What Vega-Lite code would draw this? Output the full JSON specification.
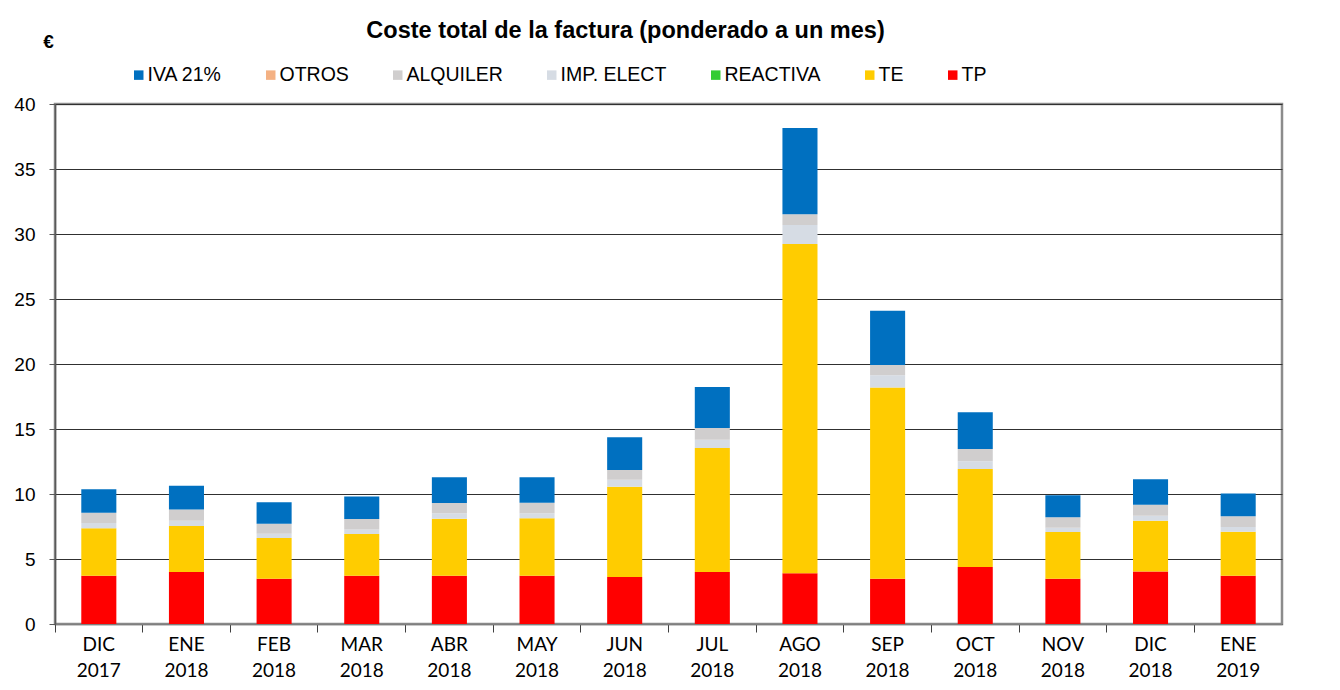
{
  "$schema": "https://vega.github.io/schema/vega-lite/v6.json",
  "autosize": "none",
  "width": 1227,
  "height": 520,
  "padding": {"left": 55, "top": 104, "right": 58, "bottom": 66},
  "background": "white",
  "title": {
    "text": "Coste total de la factura (ponderado a un mes)",
    "font": "Liberation Sans",
    "fontSize": 23.5,
    "fontWeight": "bold",
    "color": "black",
    "anchor": "middle",
    "frame": "group",
    "dx": -43,
    "dy": 30,
    "offset": 20
  },
  "data": {
    "values": [
      {"mes": "DIC 2017", "serie": "TP", "orden": 1, "valor": 3.72},
      {"mes": "DIC 2017", "serie": "TE", "orden": 2, "valor": 3.64},
      {"mes": "DIC 2017", "serie": "IMP. ELECT", "orden": 4, "valor": 0.41},
      {"mes": "DIC 2017", "serie": "ALQUILER", "orden": 5, "valor": 0.79},
      {"mes": "DIC 2017", "serie": "IVA 21%", "orden": 7, "valor": 1.80},
      {"mes": "ENE 2018", "serie": "TP", "orden": 1, "valor": 4.0},
      {"mes": "ENE 2018", "serie": "TE", "orden": 2, "valor": 3.54},
      {"mes": "ENE 2018", "serie": "IMP. ELECT", "orden": 4, "valor": 0.41},
      {"mes": "ENE 2018", "serie": "ALQUILER", "orden": 5, "valor": 0.85},
      {"mes": "ENE 2018", "serie": "IVA 21%", "orden": 7, "valor": 1.84},
      {"mes": "FEB 2018", "serie": "TP", "orden": 1, "valor": 3.49},
      {"mes": "FEB 2018", "serie": "TE", "orden": 2, "valor": 3.13},
      {"mes": "FEB 2018", "serie": "IMP. ELECT", "orden": 4, "valor": 0.33},
      {"mes": "FEB 2018", "serie": "ALQUILER", "orden": 5, "valor": 0.77},
      {"mes": "FEB 2018", "serie": "IVA 21%", "orden": 7, "valor": 1.64},
      {"mes": "MAR 2018", "serie": "TP", "orden": 1, "valor": 3.72},
      {"mes": "MAR 2018", "serie": "TE", "orden": 2, "valor": 3.20},
      {"mes": "MAR 2018", "serie": "IMP. ELECT", "orden": 4, "valor": 0.34},
      {"mes": "MAR 2018", "serie": "ALQUILER", "orden": 5, "valor": 0.82},
      {"mes": "MAR 2018", "serie": "IVA 21%", "orden": 7, "valor": 1.72},
      {"mes": "ABR 2018", "serie": "TP", "orden": 1, "valor": 3.72},
      {"mes": "ABR 2018", "serie": "TE", "orden": 2, "valor": 4.38},
      {"mes": "ABR 2018", "serie": "IMP. ELECT", "orden": 4, "valor": 0.41},
      {"mes": "ABR 2018", "serie": "ALQUILER", "orden": 5, "valor": 0.80},
      {"mes": "ABR 2018", "serie": "IVA 21%", "orden": 7, "valor": 1.97},
      {"mes": "MAY 2018", "serie": "TP", "orden": 1, "valor": 3.72},
      {"mes": "MAY 2018", "serie": "TE", "orden": 2, "valor": 4.41},
      {"mes": "MAY 2018", "serie": "IMP. ELECT", "orden": 4, "valor": 0.38},
      {"mes": "MAY 2018", "serie": "ALQUILER", "orden": 5, "valor": 0.82},
      {"mes": "MAY 2018", "serie": "IVA 21%", "orden": 7, "valor": 1.95},
      {"mes": "JUN 2018", "serie": "TP", "orden": 1, "valor": 3.62},
      {"mes": "JUN 2018", "serie": "TE", "orden": 2, "valor": 6.94},
      {"mes": "JUN 2018", "serie": "IMP. ELECT", "orden": 4, "valor": 0.54},
      {"mes": "JUN 2018", "serie": "ALQUILER", "orden": 5, "valor": 0.75},
      {"mes": "JUN 2018", "serie": "IVA 21%", "orden": 7, "valor": 2.51},
      {"mes": "JUL 2018", "serie": "TP", "orden": 1, "valor": 4.0},
      {"mes": "JUL 2018", "serie": "TE", "orden": 2, "valor": 9.54},
      {"mes": "JUL 2018", "serie": "IMP. ELECT", "orden": 4, "valor": 0.64},
      {"mes": "JUL 2018", "serie": "ALQUILER", "orden": 5, "valor": 0.90},
      {"mes": "JUL 2018", "serie": "IVA 21%", "orden": 7, "valor": 3.15},
      {"mes": "AGO 2018", "serie": "TP", "orden": 1, "valor": 3.90},
      {"mes": "AGO 2018", "serie": "TE", "orden": 2, "valor": 25.33},
      {"mes": "AGO 2018", "serie": "IMP. ELECT", "orden": 4, "valor": 1.46},
      {"mes": "AGO 2018", "serie": "ALQUILER", "orden": 5, "valor": 0.82},
      {"mes": "AGO 2018", "serie": "IVA 21%", "orden": 7, "valor": 6.64},
      {"mes": "SEP 2018", "serie": "TP", "orden": 1, "valor": 3.49},
      {"mes": "SEP 2018", "serie": "TE", "orden": 2, "valor": 14.71},
      {"mes": "SEP 2018", "serie": "IMP. ELECT", "orden": 4, "valor": 0.93},
      {"mes": "SEP 2018", "serie": "ALQUILER", "orden": 5, "valor": 0.79},
      {"mes": "SEP 2018", "serie": "IVA 21%", "orden": 7, "valor": 4.18},
      {"mes": "OCT 2018", "serie": "TP", "orden": 1, "valor": 4.38},
      {"mes": "OCT 2018", "serie": "TE", "orden": 2, "valor": 7.54},
      {"mes": "OCT 2018", "serie": "IMP. ELECT", "orden": 4, "valor": 0.59},
      {"mes": "OCT 2018", "serie": "ALQUILER", "orden": 5, "valor": 0.95},
      {"mes": "OCT 2018", "serie": "IVA 21%", "orden": 7, "valor": 2.82},
      {"mes": "NOV 2018", "serie": "TP", "orden": 1, "valor": 3.49},
      {"mes": "NOV 2018", "serie": "TE", "orden": 2, "valor": 3.59},
      {"mes": "NOV 2018", "serie": "IMP. ELECT", "orden": 4, "valor": 0.33},
      {"mes": "NOV 2018", "serie": "ALQUILER", "orden": 5, "valor": 0.80},
      {"mes": "NOV 2018", "serie": "IVA 21%", "orden": 7, "valor": 1.69},
      {"mes": "DIC 2018", "serie": "TP", "orden": 1, "valor": 4.03},
      {"mes": "DIC 2018", "serie": "TE", "orden": 2, "valor": 3.92},
      {"mes": "DIC 2018", "serie": "IMP. ELECT", "orden": 4, "valor": 0.38},
      {"mes": "DIC 2018", "serie": "ALQUILER", "orden": 5, "valor": 0.85},
      {"mes": "DIC 2018", "serie": "IVA 21%", "orden": 7, "valor": 1.95},
      {"mes": "ENE 2019", "serie": "TP", "orden": 1, "valor": 3.72},
      {"mes": "ENE 2019", "serie": "TE", "orden": 2, "valor": 3.38},
      {"mes": "ENE 2019", "serie": "IMP. ELECT", "orden": 4, "valor": 0.36},
      {"mes": "ENE 2019", "serie": "ALQUILER", "orden": 5, "valor": 0.82},
      {"mes": "ENE 2019", "serie": "IVA 21%", "orden": 7, "valor": 1.75}
    ]
  },
  "mark": {"type": "bar", "width": {"band": 0.4}},
  "encoding": {
    "x": {
      "field": "mes",
      "type": "nominal",
      "sort": null,
      "scale": {"paddingInner": 0, "paddingOuter": 0},
      "axis": {
        "title": null,
        "labelAngle": 0,
        "labelExpr": "split(datum.label, ' ')",
        "labelFont": "Lato",
        "labelFontSize": 19,
        "labelColor": "black",
        "labelLineHeight": 26,
        "labelPadding": 3,
        "labelBaseline": "top",
        "bandPosition": 0,
        "tickSize": 8,
        "tickColor": "#404040",
        "domainColor": "#7f7f7f",
        "domainWidth": 1.5,
        "grid": false
      }
    },
    "y": {
      "field": "valor",
      "type": "quantitative",
      "stack": "zero",
      "scale": {"domain": [0, 40], "nice": false},
      "axis": {
        "title": "€",
        "titleAngle": 0,
        "titleFont": "Liberation Sans",
        "titleFontSize": 19,
        "titleFontWeight": "bold",
        "titleColor": "black",
        "titleAlign": "center",
        "titleBaseline": "alphabetic",
        "titleX": -7,
        "titleY": -57,
        "values": [0, 5, 10, 15, 20, 25, 30, 35, 40],
        "labelFont": "Liberation Sans",
        "labelFontSize": 19,
        "labelColor": "black",
        "labelPadding": 14,
        "tickSize": 6,
        "tickColor": "#595959",
        "domainColor": "#595959",
        "domainWidth": 1.5,
        "grid": true,
        "gridColor": "#303030",
        "gridWidth": 1
      }
    },
    "color": {
      "field": "serie",
      "type": "nominal",
      "scale": {
        "domain": ["IVA 21%", "OTROS", "ALQUILER", "IMP. ELECT", "REACTIVA", "TE", "TP"],
        "range": ["#0070C0", "#F4B183", "#D0CECE", "#D6DCE4", "#33CC33", "#FFCC00", "#FF0000"]
      },
      "legend": {
        "title": null,
        "orient": "none",
        "legendX": 74,
        "legendY": -39,
        "direction": "horizontal",
        "columns": 7,
        "symbolType": "square",
        "symbolSize": 90,
        "symbolStrokeWidth": 0,
        "labelFont": "Liberation Sans",
        "labelFontSize": 19.5,
        "labelColor": "black",
        "labelOffset": -1,
        "columnPadding": 39
      }
    },
    "order": {"field": "orden", "type": "quantitative", "sort": "ascending"}
  },
  "config": {
    "view": {"stroke": "#8c8c8c", "strokeWidth": 2.5}
  }
}
